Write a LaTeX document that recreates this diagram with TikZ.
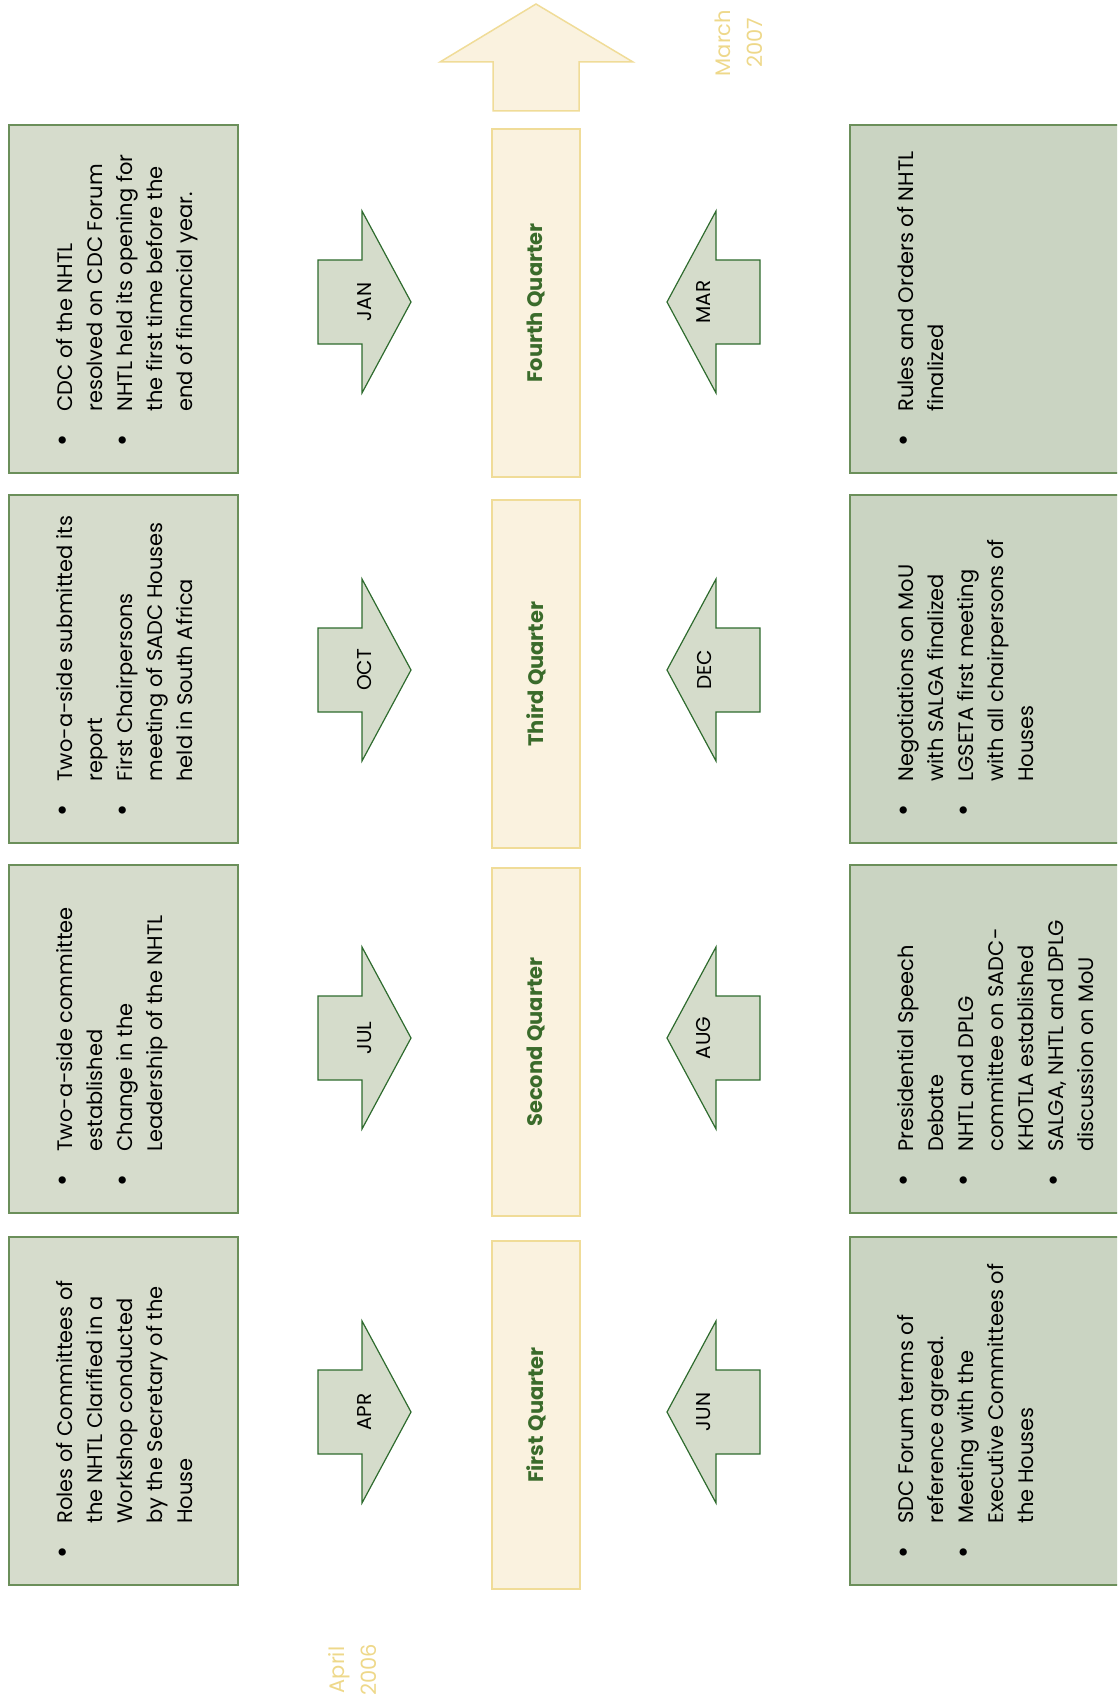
\documentclass[tikz,border=0pt]{standalone}
\usepackage{fontspec}
\setmainfont{Poppins}
\definecolor{notefill}{HTML}{D6DCCC}
\definecolor{notefillb}{HTML}{CAD4C2}
\definecolor{noteline}{HTML}{6B8F5A}
\definecolor{monthfill}{HTML}{D5DCCB}
\definecolor{monthline}{HTML}{2E6B2E}
\definecolor{qfill}{HTML}{FAF2DF}
\definecolor{qline}{HTML}{F0DC98}
\definecolor{qtext}{HTML}{3A6B2B}
\definecolor{datetext}{HTML}{EED88A}
\newcommand{\evbullet}{\makebox[35pt][l]{\scalebox{1.4}{\textbullet}}}
\newcommand{\evindent}{\hspace*{35pt}}

\begin{document}
\begin{tikzpicture}[x=1pt,y=-1pt]
    \tikzstyle{every node}+=[inner sep=0pt]
    \tikzstyle{note}=[draw=noteline, line width=1.5pt, fill=notefill, minimum width=229pt, minimum height=348pt]
    \tikzstyle{noteright}=[note, fill=notefillb, minimum width=280pt]
    \tikzstyle{notetext}=[rotate=90, anchor=north west, align=left, font=\fontsize{21}{30}\selectfont]
    \tikzstyle{quarter}=[draw=qline, line width=1.5pt, fill=qfill, rotate=90, minimum width=348pt, minimum height=88pt, text=qtext, font=\fontsize{21}{25}\selectfont\bfseries]
    \tikzstyle{month}=[rotate=90, font=\fontsize{20}{24}\selectfont]
    \tikzstyle{montharrow}=[draw=monthline, line width=1.2pt, fill=monthfill]
    \tikzstyle{date}=[text=datetext, rotate=90, align=center, font=\fontsize{21}{32}\selectfont]
    \useasboundingbox (0,0) rectangle (1117,1704);
    \clip (0,0) rectangle (1117,1704);

    % time line
    \draw [qline, fill=qfill, line width=1.5pt] (493,111) -- (493,62) -- (440,62) -- (536,4) -- (633,62) -- (579,62) -- (579,111) -- cycle;
    \node [quarter] (q1) at (536,1415) {First Quarter};
    \node [quarter] (q2) at (536,1042) {Second Quarter};
    \node [quarter] (q3) at (536,674) {Third Quarter};
    \node [quarter] (q4) at (536,303) {Fourth Quarter};
    \node [date] (start) at (353,1670) {April\\2006};
    \node [date] (end) at (739,43) {March\\2007};

    % left column
    \node [note] (n1) at (123.5,1411) {};
    \node [note] (n2) at (123.5,1039) {};
    \node [note] (n3) at (123.5,669) {};
    \node [note] (n4) at (123.5,299) {};
    \node [notetext] (t1) at ([shift={(48,-27)}]n1.south west) {\evbullet Roles of Committees of\\\evindent the NHTL Clarified in a\\\evindent Workshop conducted\\\evindent by the Secretary of the\\\evindent House};
    \node [notetext] (t2) at ([shift={(48,-27)}]n2.south west) {\evbullet Two-a-side committee\\\evindent established\\\evbullet Change in the\\\evindent Leadership of the NHTL};
    \node [notetext] (t3) at ([shift={(48,-27)}]n3.south west) {\evbullet Two-a-side submitted its\\\evindent report\\\evbullet First Chairpersons\\\evindent meeting of SADC Houses\\\evindent held in South Africa};
    \node [notetext] (t4) at ([shift={(48,-27)}]n4.south west) {\evbullet CDC of the NHTL\\\evindent resolved on CDC Forum\\\evbullet NHTL held its opening for\\\evindent the first time before the\\\evindent end of financial year.};

    % right column
    \node [noteright] (r1) at (990,1411) {};
    \node [noteright] (r2) at (990,1039) {};
    \node [noteright] (r3) at (990,669) {};
    \node [noteright] (r4) at (990,299) {};
    \node [notetext] (s1) at ([shift={(48,-27)}]r1.south west) {\evbullet SDC Forum terms of\\\evindent reference agreed.\\\evbullet Meeting with the\\\evindent Executive Committees of\\\evindent the Houses};
    \node [notetext] (s2) at ([shift={(48,-27)}]r2.south west) {\evbullet Presidential Speech\\\evindent Debate\\\evbullet NHTL and DPLG\\\evindent committee on SADC-\\\evindent KHOTLA established\\\evbullet SALGA, NHTL and DPLG\\\evindent discussion on MoU};
    \node [notetext] (s3) at ([shift={(48,-27)}]r3.south west) {\evbullet Negotiations on MoU\\\evindent with SALGA finalized\\\evbullet LGSETA first meeting\\\evindent with all chairpersons of\\\evindent Houses};
    \node [notetext] (s4) at ([shift={(48,-27)}]r4.south west) {\evbullet Rules and Orders of NHTL\\\evindent finalized};

    % month arrows
    \coordinate (apr) at (365,1412);
    \coordinate (jul) at (365,1038);
    \coordinate (oct) at (365,670);
    \coordinate (jan) at (365,302);
    \coordinate (jun) at (713,1412);
    \coordinate (aug) at (713,1038);
    \coordinate (dec) at (713,670);
    \coordinate (mar) at (713,302);
    \draw [montharrow, shift={(apr)}] (-47,-42) -- (-3,-42) -- (-3,-91) -- (46,0) -- (-3,91) -- (-3,42) -- (-47,42) -- cycle;
    \draw [montharrow, shift={(jul)}] (-47,-42) -- (-3,-42) -- (-3,-91) -- (46,0) -- (-3,91) -- (-3,42) -- (-47,42) -- cycle;
    \draw [montharrow, shift={(oct)}] (-47,-42) -- (-3,-42) -- (-3,-91) -- (46,0) -- (-3,91) -- (-3,42) -- (-47,42) -- cycle;
    \draw [montharrow, shift={(jan)}] (-47,-42) -- (-3,-42) -- (-3,-91) -- (46,0) -- (-3,91) -- (-3,42) -- (-47,42) -- cycle;
    \draw [montharrow, shift={(jun)}] (47,-42) -- (3,-42) -- (3,-91) -- (-46,0) -- (3,91) -- (3,42) -- (47,42) -- cycle;
    \draw [montharrow, shift={(aug)}] (47,-42) -- (3,-42) -- (3,-91) -- (-46,0) -- (3,91) -- (3,42) -- (47,42) -- cycle;
    \draw [montharrow, shift={(dec)}] (47,-42) -- (3,-42) -- (3,-91) -- (-46,0) -- (3,91) -- (3,42) -- (47,42) -- cycle;
    \draw [montharrow, shift={(mar)}] (47,-42) -- (3,-42) -- (3,-91) -- (-46,0) -- (3,91) -- (3,42) -- (47,42) -- cycle;
    \node [month] (aprl) at (apr) {APR};
    \node [month] (jull) at (jul) {JUL};
    \node [month] (octl) at (oct) {OCT};
    \node [month] (janl) at (jan) {JAN};
    \node [month] (junl) at ([xshift=-9pt]jun) {JUN};
    \node [month] (augl) at ([xshift=-9pt]aug) {AUG};
    \node [month] (decl) at ([xshift=-9pt]dec) {DEC};
    \node [month] (marl) at ([xshift=-9pt]mar) {MAR};
\end{tikzpicture}
\end{document}
